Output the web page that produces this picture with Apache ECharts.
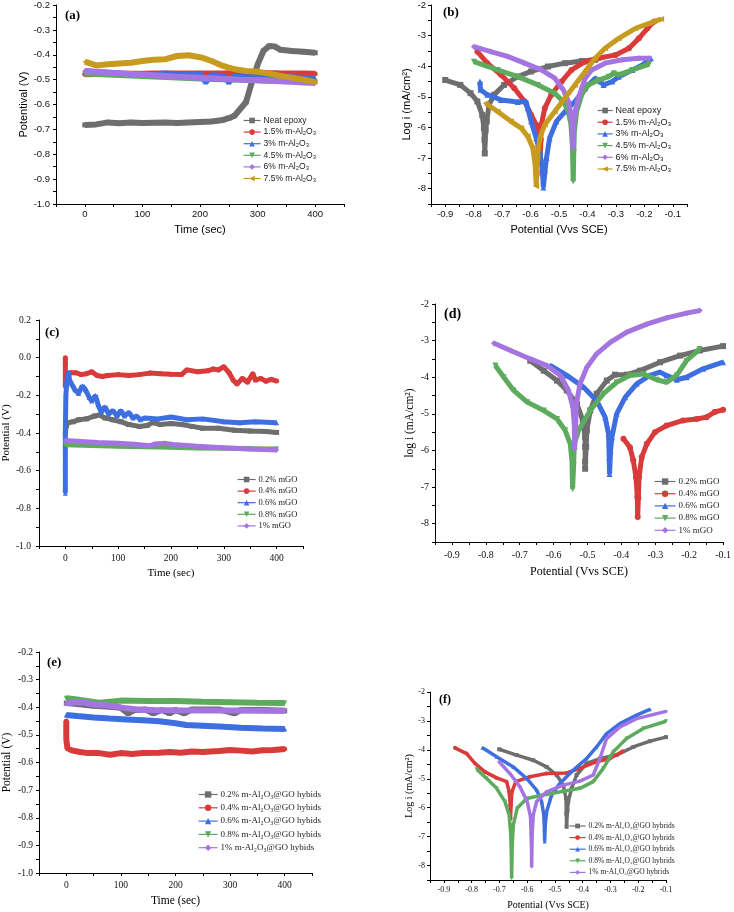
<!DOCTYPE html>
<html><head><meta charset="utf-8">
<script src="https://cdn.jsdelivr.net/npm/echarts@6/dist/echarts.min.js"></script>
<style>html,body{margin:0;padding:0;background:#fff}#c{width:734px;height:912px}</style>
</head><body><div id="c"></div>
<script>
// ---------- DATA ----------
// (a) OCP vs time, epoxy / m-Al2O3
const timeA = [0,20,40,60,80,100,120,140,160,180,200,210,220,240,250,260,280,290,300,310,320,330,340,360,380,400];
const aNeat  = [-0.682,-0.68,-0.672,-0.675,-0.672,-0.674,-0.673,-0.672,-0.674,-0.672,-0.67,-0.669,-0.668,-0.662,-0.655,-0.645,-0.59,-0.51,-0.44,-0.385,-0.365,-0.367,-0.38,-0.385,-0.388,-0.392];
const aAl15  = [-0.478,-0.477,-0.477,-0.476,-0.476,-0.476,-0.475,-0.475,-0.475,-0.475,-0.475,-0.475,-0.475,-0.475,-0.474,-0.474,-0.474,-0.474,-0.474,-0.474,-0.474,-0.474,-0.475,-0.475,-0.475,-0.476];
const aAl3   = [-0.465,-0.47,-0.472,-0.475,-0.478,-0.478,-0.478,-0.475,-0.478,-0.478,-0.476,-0.51,-0.482,-0.485,-0.51,-0.487,-0.49,-0.49,-0.488,-0.488,-0.49,-0.49,-0.487,-0.49,-0.492,-0.495];
const aAl45  = [-0.475,-0.477,-0.479,-0.481,-0.483,-0.485,-0.487,-0.489,-0.491,-0.493,-0.495,-0.496,-0.497,-0.498,-0.499,-0.5,-0.502,-0.502,-0.503,-0.504,-0.505,-0.505,-0.506,-0.507,-0.509,-0.51];
const aAl6   = [-0.465,-0.468,-0.471,-0.474,-0.477,-0.479,-0.482,-0.485,-0.488,-0.49,-0.492,-0.493,-0.494,-0.497,-0.498,-0.499,-0.501,-0.502,-0.503,-0.504,-0.505,-0.506,-0.507,-0.509,-0.512,-0.514];
const aAl75  = [-0.428,-0.443,-0.438,-0.435,-0.432,-0.425,-0.42,-0.418,-0.405,-0.402,-0.41,-0.417,-0.425,-0.445,-0.452,-0.458,-0.465,-0.466,-0.468,-0.472,-0.476,-0.48,-0.485,-0.492,-0.5,-0.51];

// (b) polarization, epoxy / m-Al2O3  [potential, log i]
const bNeat = [[-0.9,-4.45],[-0.847,-4.61],[-0.811,-4.88],[-0.787,-5.15],[-0.77,-5.59],[-0.764,-6.02],[-0.762,-6.4],[-0.761,-6.85],[-0.758,-6.1],[-0.754,-5.8],[-0.746,-5.26],[-0.728,-4.93],[-0.693,-4.61],[-0.645,-4.34],[-0.598,-4.17],[-0.539,-4.01],[-0.479,-3.9],[-0.42,-3.83],[-0.373,-3.79]];
const bAl15 = [[-0.787,-3.52],[-0.752,-3.9],[-0.704,-4.28],[-0.657,-4.72],[-0.621,-5.15],[-0.598,-5.59],[-0.58,-5.91],[-0.572,-6.29],[-0.568,-6.67],[-0.566,-7.05],[-0.564,-6.4],[-0.562,-5.91],[-0.55,-5.37],[-0.527,-4.93],[-0.491,-4.5],[-0.456,-4.12],[-0.408,-3.85],[-0.361,-3.74],[-0.301,-3.63],[-0.254,-3.41],[-0.219,-3.09],[-0.189,-2.76],[-0.165,-2.54]];
const bAl3  = [[-0.778,-4.5],[-0.776,-4.77],[-0.752,-4.93],[-0.704,-5.1],[-0.645,-5.17],[-0.616,-5.15],[-0.61,-5.37],[-0.598,-5.8],[-0.58,-6.35],[-0.568,-6.78],[-0.559,-7.33],[-0.555,-7.96],[-0.549,-7.4],[-0.544,-7.0],[-0.533,-6.35],[-0.509,-5.8],[-0.479,-5.48],[-0.444,-5.15],[-0.408,-4.72],[-0.373,-4.39],[-0.355,-4.5],[-0.343,-4.61],[-0.313,-4.5],[-0.29,-4.34],[-0.242,-4.12],[-0.207,-3.96],[-0.177,-3.74]];
const bAl45 = [[-0.799,-3.85],[-0.716,-4.12],[-0.645,-4.34],[-0.574,-4.61],[-0.515,-4.88],[-0.485,-5.15],[-0.467,-5.48],[-0.458,-5.91],[-0.453,-6.57],[-0.45,-7.76],[-0.448,-6.8],[-0.446,-6.13],[-0.438,-5.48],[-0.42,-4.93],[-0.397,-4.61],[-0.361,-4.45],[-0.325,-4.34],[-0.307,-4.23],[-0.29,-4.28],[-0.242,-4.12],[-0.183,-3.93]];
const bAl6  = [[-0.799,-3.36],[-0.74,-3.52],[-0.681,-3.68],[-0.621,-3.9],[-0.562,-4.12],[-0.515,-4.39],[-0.485,-4.77],[-0.467,-5.15],[-0.458,-5.59],[-0.453,-6.13],[-0.451,-6.67],[-0.449,-6.3],[-0.446,-5.59],[-0.432,-5.04],[-0.408,-4.39],[-0.385,-4.12],[-0.338,-3.9],[-0.278,-3.79],[-0.219,-3.74],[-0.183,-3.74]];
const bAl75 = [[-0.758,-5.21],[-0.716,-5.48],[-0.669,-5.8],[-0.633,-6.02],[-0.61,-6.29],[-0.592,-6.67],[-0.584,-7.22],[-0.58,-7.92],[-0.578,-7.5],[-0.576,-7.0],[-0.568,-6.35],[-0.55,-5.91],[-0.515,-5.48],[-0.479,-5.04],[-0.444,-4.61],[-0.408,-4.17],[-0.373,-3.74],[-0.338,-3.41],[-0.29,-3.09],[-0.231,-2.76],[-0.183,-2.6],[-0.141,-2.46]];

// (c) OCP vs time, mGO  [time, potential]
const cGO02 = [[0,-0.4],[2,-0.36],[5,-0.345],[15,-0.34],[25,-0.33],[40,-0.325],[55,-0.31],[65,-0.305],[75,-0.32],[90,-0.33],[105,-0.34],[120,-0.355],[140,-0.365],[155,-0.36],[165,-0.345],[180,-0.355],[200,-0.35],[220,-0.355],[240,-0.365],[260,-0.375],[290,-0.375],[320,-0.385],[350,-0.39],[380,-0.392],[400,-0.397]];
const cGO04 = [[0,0.0],[0,-0.035],[0,-0.15],[2,-0.09],[5,-0.1],[10,-0.08],[20,-0.08],[30,-0.09],[40,-0.085],[50,-0.075],[60,-0.095],[70,-0.1],[80,-0.095],[100,-0.09],[120,-0.095],[140,-0.09],[160,-0.082],[180,-0.085],[200,-0.088],[220,-0.09],[230,-0.065],[250,-0.075],[270,-0.07],[280,-0.06],[290,-0.065],[300,-0.048],[310,-0.08],[318,-0.12],[325,-0.14],[335,-0.11],[345,-0.13],[355,-0.085],[360,-0.12],[370,-0.11],[380,-0.125],[390,-0.115],[400,-0.124]];
const cGO06 = [[0,-0.72],[0,-0.56],[0,-0.49],[0,-0.4],[1,-0.2],[3,-0.12],[6,-0.078],[8,-0.12],[12,-0.14],[18,-0.17],[25,-0.19],[32,-0.15],[38,-0.17],[45,-0.21],[50,-0.23],[57,-0.2],[62,-0.25],[68,-0.29],[75,-0.26],[82,-0.3],[90,-0.28],[98,-0.31],[105,-0.28],[112,-0.31],[120,-0.29],[128,-0.32],[135,-0.31],[142,-0.33],[150,-0.32],[175,-0.325],[200,-0.315],[230,-0.33],[260,-0.325],[300,-0.34],[330,-0.345],[360,-0.34],[400,-0.345]];
const cGO08 = [[0,-0.462],[50,-0.466],[100,-0.47],[150,-0.473],[200,-0.476],[250,-0.479],[300,-0.481],[350,-0.483],[400,-0.485]];
const cGO1  = [[0,-0.44],[30,-0.445],[60,-0.45],[100,-0.455],[130,-0.46],[160,-0.468],[170,-0.458],[190,-0.455],[210,-0.463],[250,-0.47],[300,-0.478],[350,-0.485],[400,-0.49]];

// (d) polarization, mGO
const dGO02 = [[-0.669,-3.55],[-0.629,-3.82],[-0.59,-4.09],[-0.561,-4.36],[-0.531,-4.73],[-0.514,-5.18],[-0.507,-5.64],[-0.507,-5.9],[-0.507,-6.3],[-0.507,-6.5],[-0.504,-5.9],[-0.502,-5.45],[-0.492,-4.91],[-0.473,-4.45],[-0.443,-4.09],[-0.419,-3.93],[-0.384,-3.93],[-0.345,-3.82],[-0.286,-3.59],[-0.227,-3.41],[-0.169,-3.27],[-0.1,-3.15]];
const dGO04 = [[-0.394,-5.68],[-0.375,-5.91],[-0.365,-6.27],[-0.357,-6.73],[-0.353,-7.27],[-0.352,-7.82],[-0.35,-7.3],[-0.348,-6.73],[-0.34,-6.18],[-0.325,-5.82],[-0.301,-5.5],[-0.267,-5.32],[-0.218,-5.18],[-0.178,-5.14],[-0.149,-5.09],[-0.125,-4.95],[-0.1,-4.89]];
const dGO06 = [[-0.61,-3.68],[-0.561,-3.95],[-0.512,-4.27],[-0.473,-4.64],[-0.448,-5.09],[-0.438,-5.55],[-0.436,-6.2],[-0.435,-6.64],[-0.432,-6.0],[-0.428,-5.64],[-0.414,-5.0],[-0.389,-4.55],[-0.355,-4.18],[-0.316,-3.95],[-0.286,-3.86],[-0.267,-3.95],[-0.237,-4.07],[-0.208,-4.0],[-0.159,-3.77],[-0.1,-3.59]];
const dGO08 = [[-0.772,-3.68],[-0.747,-4.0],[-0.718,-4.36],[-0.678,-4.68],[-0.629,-4.91],[-0.59,-5.14],[-0.566,-5.45],[-0.551,-5.82],[-0.546,-6.27],[-0.544,-7.05],[-0.541,-6.4],[-0.539,-5.82],[-0.526,-5.45],[-0.492,-4.91],[-0.453,-4.45],[-0.414,-4.14],[-0.375,-3.95],[-0.335,-3.91],[-0.296,-4.07],[-0.267,-4.14],[-0.237,-3.95],[-0.208,-3.55],[-0.169,-3.23]];
const dGO1  = [[-0.776,-3.07],[-0.727,-3.27],[-0.669,-3.5],[-0.62,-3.68],[-0.58,-3.95],[-0.556,-4.36],[-0.543,-4.82],[-0.539,-5.27],[-0.538,-5.95],[-0.535,-5.3],[-0.533,-4.73],[-0.522,-4.18],[-0.502,-3.73],[-0.473,-3.36],[-0.433,-3.05],[-0.384,-2.77],[-0.325,-2.55],[-0.267,-2.38],[-0.208,-2.25],[-0.169,-2.18]];

// (e) OCP vs time, m-Al2O3@GO hybrids
const eH02 = [[0,-0.385],[20,-0.388],[50,-0.395],[80,-0.398],[100,-0.402],[113,-0.422],[125,-0.41],[145,-0.408],[159,-0.422],[175,-0.41],[189,-0.422],[200,-0.41],[216,-0.422],[230,-0.408],[280,-0.408],[308,-0.422],[320,-0.41],[360,-0.41],[400,-0.413]];
const eH04 = [[0,-0.45],[0,-0.47],[0,-0.49],[0,-0.515],[2,-0.548],[10,-0.556],[25,-0.562],[40,-0.566],[60,-0.566],[80,-0.572],[100,-0.566],[120,-0.569],[140,-0.566],[170,-0.565],[190,-0.562],[210,-0.565],[230,-0.56],[250,-0.562],[280,-0.558],[300,-0.555],[320,-0.557],[340,-0.56],[360,-0.556],[380,-0.555],[400,-0.551]];
const eH06 = [[0,-0.428],[20,-0.432],[50,-0.437],[80,-0.441],[110,-0.444],[140,-0.447],[170,-0.451],[200,-0.458],[220,-0.464],[250,-0.467],[280,-0.47],[320,-0.474],[360,-0.477],[400,-0.479]];
const eH08 = [[0,-0.367],[20,-0.372],[40,-0.378],[60,-0.384],[80,-0.38],[100,-0.376],[150,-0.377],[200,-0.377],[250,-0.38],[300,-0.382],[350,-0.384],[400,-0.385]];
const eH1  = [[0,-0.386],[15,-0.383],[30,-0.382],[50,-0.39],[70,-0.392],[90,-0.397],[110,-0.404],[130,-0.408],[160,-0.41],[200,-0.411],[250,-0.412],[300,-0.412],[350,-0.413],[400,-0.413]];

// (f) polarization, m-Al2O3@GO hybrids
const fH02 = [[-0.701,-3.98],[-0.638,-4.18],[-0.578,-4.36],[-0.53,-4.59],[-0.494,-4.87],[-0.47,-5.22],[-0.46,-5.68],[-0.459,-6.2],[-0.458,-6.66],[-0.455,-6.1],[-0.452,-5.79],[-0.44,-5.33],[-0.422,-4.87],[-0.386,-4.47],[-0.338,-4.3],[-0.278,-4.18],[-0.218,-3.9],[-0.158,-3.7],[-0.1,-3.56]];
const fH04 = [[-0.86,-3.93],[-0.818,-4.13],[-0.788,-4.47],[-0.752,-4.76],[-0.71,-4.97],[-0.674,-5.1],[-0.665,-5.45],[-0.661,-5.91],[-0.66,-6.38],[-0.658,-5.9],[-0.655,-5.45],[-0.641,-5.1],[-0.59,-4.93],[-0.53,-4.82],[-0.458,-4.8],[-0.41,-4.64],[-0.35,-4.41],[-0.302,-4.3],[-0.256,-4.05]];
const fH06 = [[-0.761,-3.93],[-0.71,-4.24],[-0.65,-4.59],[-0.602,-4.99],[-0.566,-5.39],[-0.548,-5.79],[-0.54,-6.25],[-0.538,-6.75],[-0.537,-7.17],[-0.535,-6.6],[-0.53,-6.14],[-0.512,-5.56],[-0.482,-5.16],[-0.434,-4.7],[-0.386,-4.3],[-0.35,-3.9],[-0.314,-3.44],[-0.266,-3.09],[-0.206,-2.8],[-0.158,-2.6]];
const fH08 = [[-0.782,-4.67],[-0.746,-4.99],[-0.71,-5.33],[-0.68,-5.79],[-0.665,-6.25],[-0.659,-6.94],[-0.657,-7.6],[-0.656,-8.44],[-0.654,-7.3],[-0.65,-6.6],[-0.636,-6.02],[-0.602,-5.68],[-0.542,-5.56],[-0.47,-5.43],[-0.41,-5.33],[-0.362,-5.1],[-0.326,-4.64],[-0.29,-4.07],[-0.242,-3.61],[-0.182,-3.26],[-0.1,-3.01]];
const fH1  = [[-0.701,-4.41],[-0.662,-4.82],[-0.626,-5.28],[-0.6,-5.79],[-0.588,-6.31],[-0.586,-6.9],[-0.584,-7.5],[-0.584,-8.03],[-0.582,-6.9],[-0.578,-6.25],[-0.566,-5.79],[-0.53,-5.45],[-0.47,-5.22],[-0.41,-5.08],[-0.362,-4.87],[-0.338,-4.3],[-0.314,-3.61],[-0.266,-3.21],[-0.206,-2.92],[-0.1,-2.67]];

// names
const namesA = ['Neat epoxy','1.5% m-Al₂O₃','3% m-Al₂O₃','4.5% m-Al₂O₃','6% m-Al₂O₃','7.5% m-Al₂O₃'];
const namesGO = ['0.2% mGO','0.4% mGO','0.6% mGO','0.8% mGO','1% mGO'];
const namesE = ['0.2% m-Al₂O₃@GO hybids','0.4% m-Al₂O₃@GO hybids','0.6% m-Al₂O₃@GO hybids','0.8% m-Al₂O₃@GO hybids','1% m-Al₂O₃@GO hybids'];
const namesF = ['0.2% m-Al₂O₃@GO hybrids','0.4% m-Al₂O₃@GO hybrids','0.6% m-Al₂O₃@GO hybrids','0.8% m-Al₂O₃@GO hybrids','1% m-Al₂O₃@GO hybrids'];

// ---------- STYLE ----------
const GRAY='#6e6e6e', RED='#d93b3b', BLUE='#3e6fe0', GREEN='#5dab5d', PURPLE='#a475e0', GOLD='#c69b1f';
const SANS='Liberation Sans, Arial, sans-serif', SERIF='Liberation Serif, Times New Roman, serif';
const SYM = [['rect',0],['circle',0],['triangle',0],['triangle',180],['diamond',0],['triangle',90]];
const COL6 = [GRAY,RED,BLUE,GREEN,PURPLE,GOLD];

const grids = [
  {left:56, top:5, width:288, height:199},
  {left:431, top:5, width:256, height:199},
  {left:36, top:320, width:267, height:226},
  {left:435, top:304, width:290, height:238},
  {left:38, top:652, width:274, height:221},
  {left:430, top:692, width:236, height:188}
];

function zip(t, v){ return t.map((x,i)=>[x, v[i]]); }

const series = [];
function addSeries(gi, names, datas, lw, ss){
  datas.forEach((d,i)=>{
    series.push({
      type:'line', name:names[i], data:d, xAxisIndex:gi, yAxisIndex:gi,
      symbol:SYM[i][0], symbolRotate:SYM[i][1], symbolSize:ss,
      showSymbol:true, showAllSymbol:true, animation:false, silent:true,
      lineStyle:{color:COL6[i], width:lw}, itemStyle:{color:COL6[i]}, z:2+i
    });
  });
}
addSeries(0, namesA, [zip(timeA,aNeat),zip(timeA,aAl15),zip(timeA,aAl3),zip(timeA,aAl45),zip(timeA,aAl6),zip(timeA,aAl75)], 6, 5);
addSeries(1, namesA, [bNeat,bAl15,bAl3,bAl45,bAl6,bAl75], 5, 6);
addSeries(2, namesGO, [cGO02,cGO04,cGO06,cGO08,cGO1], 5, 5);
addSeries(3, namesGO, [dGO02,dGO04,dGO06,dGO08,dGO1], 5, 6);
addSeries(4, namesE, [eH02,eH04,eH06,eH08,eH1], 6, 5);
addSeries(5, namesF, [fH02,fH04,fH06,fH08,fH1], 3.5, 4);

function timeFmt(v){ return (Math.round(v) % 100 === 0) ? String(Math.round(v)) : ''; }
function every2(step){ return function(v){ const k=Math.round(v/step); return (k%2===0) ? (Math.round(v*10)/10).toFixed(1) : ''; }; }
function intFmt(v){ return Math.abs(v-Math.round(v))<1e-6 ? String(Math.round(v)) : ''; }

function axis(gi, o){
  return {
    type:'value', gridIndex:gi, min:o.min, max:o.max, interval:o.interval,
    name:o.name, nameLocation:'middle', nameGap:o.nameGap,
    nameTextStyle:{fontFamily:o.font, fontSize:o.nameSize, color:'#000'},
    axisLine:{onZero:false, lineStyle:{color:'#000', width:1}},
    axisTick:{show:true, length:3, lineStyle:{color:'#000'}},
    axisLabel:{formatter:o.fmt, fontFamily:o.font, fontSize:o.labSize, color:'#111', margin:o.margin},
    splitLine:{show:false}
  };
}

const xAxes = [
  axis(0,{min:-50,max:450,interval:50,fmt:timeFmt,font:SANS,labSize:9.5,name:'Time (sec)',nameSize:11,nameGap:20,margin:5}),
  axis(1,{min:-0.95,max:-0.05,interval:0.05,fmt:every2(0.05),font:SANS,labSize:9.5,name:'Potential (Vvs SCE)',nameSize:11,nameGap:20,margin:5}),
  axis(2,{min:-50,max:450,interval:50,fmt:timeFmt,font:SERIF,labSize:9.5,name:'Time (sec)',nameSize:11,nameGap:22,margin:7}),
  axis(3,{min:-0.95,max:-0.1,interval:0.05,fmt:every2(0.05),font:SERIF,labSize:10,name:'Potential (Vvs SCE)',nameSize:12,nameGap:24,margin:8}),
  axis(4,{min:-50,max:450,interval:50,fmt:timeFmt,font:SERIF,labSize:9.5,name:'Time (sec)',nameSize:11.5,nameGap:22,margin:7}),
  axis(5,{min:-0.95,max:-0.1,interval:0.05,fmt:every2(0.05),font:SERIF,labSize:8,name:'Potential (Vvs SCE)',nameSize:10,nameGap:20,margin:6})
];
const yAxes = [
  axis(0,{min:-1.0,max:-0.2,interval:0.05,fmt:every2(0.05),font:SANS,labSize:9.5,name:'Potentival (V)',nameSize:11,nameGap:24,margin:6}),
  axis(1,{min:-8.5,max:-2,interval:0.5,fmt:intFmt,font:SANS,labSize:9.5,name:'Log i (mA/cm²)',nameSize:11,nameGap:19,margin:5}),
  axis(2,{min:-1.0,max:0.2,interval:0.1,fmt:every2(0.1),font:SERIF,labSize:9.5,name:'Potential (V)',nameSize:11,nameGap:26,margin:8}),
  axis(3,{min:-8.5,max:-2,interval:0.5,fmt:intFmt,font:SERIF,labSize:10,name:'log i (mA/cm²)',nameSize:11.5,nameGap:19,margin:6}),
  axis(4,{min:-1.0,max:-0.2,interval:0.05,fmt:every2(0.05),font:SERIF,labSize:9.5,name:'Potential (V)',nameSize:11.5,nameGap:26,margin:6}),
  axis(5,{min:-8.5,max:-2,interval:0.5,fmt:intFmt,font:SERIF,labSize:8,name:'Log i (mA/cm²)',nameSize:10,nameGap:15,margin:5})
];

function legend(names, o){
  return {
    data:names, orient:'vertical', left:o.left, top:o.top, itemWidth:o.iw, itemHeight:o.ih,
    itemGap:o.gap, selectedMode:false, padding:0,
    textStyle:{fontFamily:o.font, fontSize:o.fs, color:'#222', padding:[0,0,0,-2]},
    lineStyle:{width:1.2}
  };
}
const legends = [
  legend(namesA,{left:243,top:116,iw:17,ih:7,gap:2.6,font:SANS,fs:8.5}),
  legend(namesA,{left:597,top:106,iw:15,ih:7,gap:2.7,font:SANS,fs:9}),
  legend(namesGO,{left:237,top:475,iw:18,ih:7,gap:2.6,font:SERIF,fs:8.5}),
  legend(namesGO,{left:654,top:477,iw:21,ih:8,gap:3.2,font:SERIF,fs:9}),
  legend(namesE,{left:198,top:790,iw:19,ih:8,gap:4.3,font:SERIF,fs:9}),
  legend(namesF,{left:569,top:822,iw:16,ih:6,gap:3.6,font:SERIF,fs:7.5})
];

function lab(t, x, y, fs){ return {type:'text', left:x, top:y, silent:true, style:{text:t, font:'bold '+fs+'px '+SERIF, fill:'#000'}}; }

const option = {
  backgroundColor:'#fff', animation:false,
  grid:grids, xAxis:xAxes, yAxis:yAxes, legend:legends, series:series,
  graphic:[lab('(a)',65,9,13), lab('(b)',443,6,13), lab('(c)',45,326,13), lab('(d)',444,307,14), lab('(e)',47,656,13), lab('(f)',439,694,12)]
};
const chart = echarts.init(document.getElementById('c'), null, {renderer:'canvas'});
chart.setOption(option);
</script></body></html>
